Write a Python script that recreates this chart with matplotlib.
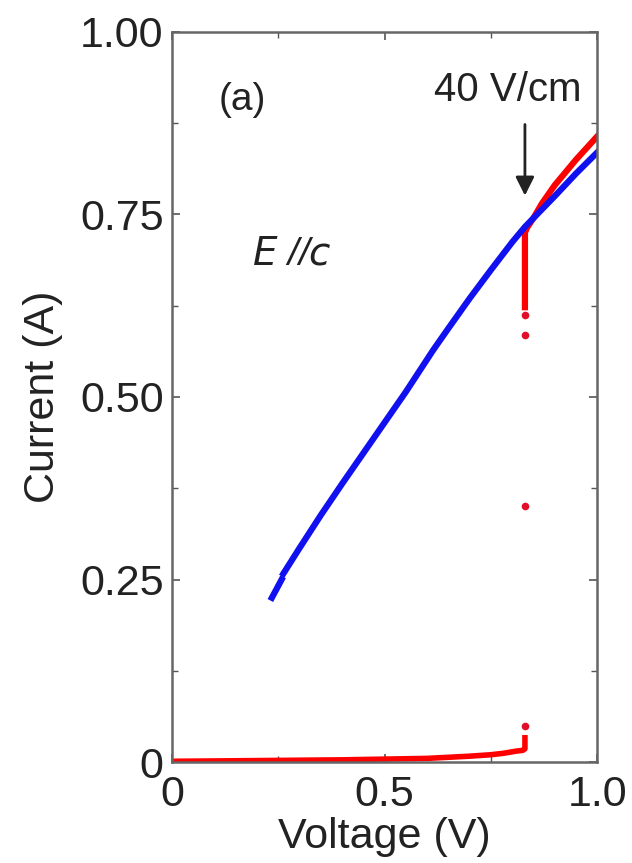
import matplotlib
matplotlib.use('Agg')
import matplotlib.pyplot as plt
from matplotlib.ticker import MultipleLocator

# I-V data
blue_v1 = [0.235, 0.258]
blue_i1 = [0.225, 0.250]
blue_v2 = [0.262, 0.30, 0.35, 0.40, 0.45, 0.50, 0.55, 0.614, 0.65, 0.70, 0.75, 0.80, 0.83, 0.87, 0.90, 0.95, 1.00]
blue_i2 = [0.258, 0.293, 0.338, 0.381, 0.423, 0.465, 0.507, 0.564, 0.594, 0.635, 0.674, 0.712, 0.733, 0.757, 0.775, 0.806, 0.835]

red_low_v = [0.0, 0.1, 0.2, 0.3, 0.4, 0.5, 0.6, 0.7, 0.75, 0.78, 0.81, 0.825, 0.83, 0.83]
red_low_i = [0.001, 0.0015, 0.002, 0.0025, 0.003, 0.004, 0.005, 0.008, 0.010, 0.012, 0.015, 0.016, 0.018, 0.037]
red_high_v = [0.83, 0.83, 0.835, 0.85, 0.87, 0.90, 0.95, 1.00]
red_high_i = [0.623, 0.725, 0.732, 0.745, 0.765, 0.790, 0.825, 0.857]
red_dot_v = [0.83, 0.83, 0.83, 0.83]
red_dot_i = [0.05, 0.35, 0.585, 0.612]

plt.rcParams['font.family'] = ['Liberation Sans', 'DejaVu Sans']

fig = plt.figure(figsize=(6.32, 8.63), dpi=100)
ax = fig.add_axes([0.272, 0.117, 0.673, 0.846])

ax.plot(red_low_v, red_low_i, color='red', lw=4, solid_capstyle='butt')
ax.plot(red_high_v, red_high_i, color='red', lw=4.5)
ax.plot(red_dot_v, red_dot_i, 'o', color='#e0102a', ms=5.5, mew=0)
ax.plot(blue_v1, blue_i1, color='#1010f0', lw=4.5)
ax.plot(blue_v2, blue_i2, color='#1010f0', lw=4.5)

ax.set_xlim(0, 1.0)
ax.set_ylim(0, 1.0)
ax.set_xticks([0, 0.5, 1.0])
ax.set_xticklabels(['0', '0.5', '1.0'])
ax.set_yticks([0, 0.25, 0.5, 0.75, 1.0])
ax.set_yticklabels(['0', '0.25', '0.50', '0.75', '1.00'])
ax.xaxis.set_minor_locator(MultipleLocator(0.25))
ax.yaxis.set_minor_locator(MultipleLocator(0.125))
ax.tick_params(which='both', direction='in', top=True, right=True,
               color='#555555', labelsize=31, labelcolor='#222222')
ax.tick_params(which='major', length=6, width=1.2, pad=6)
ax.tick_params(which='minor', length=4, width=1.0)
ax.tick_params(axis='x', which='major', pad=9)
for s in ax.spines.values():
    s.set_color('#666666')
    s.set_linewidth(1.8)

ax.set_xlabel('Voltage (V)', fontsize=31, color='#222222', labelpad=2)
ax.set_ylabel('Current (A)', fontsize=31, color='#222222', labelpad=12)

ax.text(0.165, 0.907, '(a)', fontsize=28, ha='center', va='center', color='#222222')
ax.text(0.283, 0.695, r'$E$ //$c$', fontsize=28, ha='center', va='center',
        color='#222222', style='italic')
ax.text(0.79, 0.92, '40 V/cm', fontsize=29, ha='center', va='center', color='#222222')
ax.annotate('', xy=(0.83, 0.772), xytext=(0.83, 0.877),
            arrowprops=dict(arrowstyle='-|>', color='#222222', lw=2, mutation_scale=28))

fig.savefig('out.png', dpi=100)
